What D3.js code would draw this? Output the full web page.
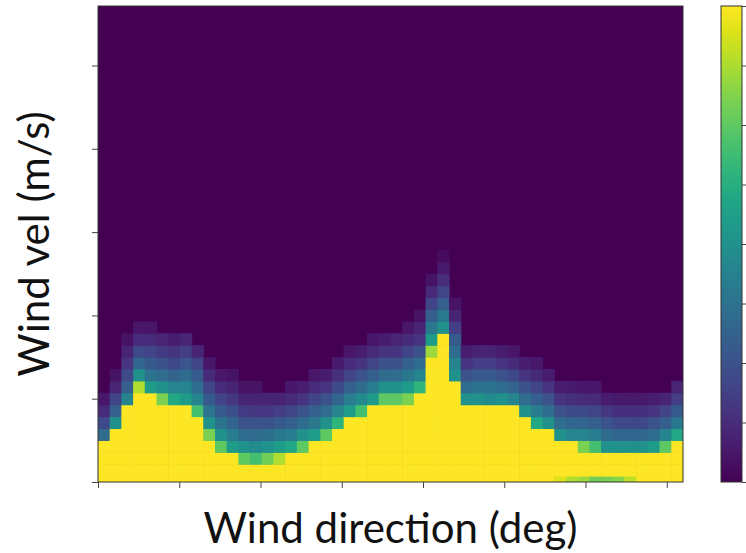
<!DOCTYPE html>
<html>
<head>
<meta charset="utf-8">
<script src="https://cdn.jsdelivr.net/npm/d3@7"></script>
<style>
  html, body { margin: 0; padding: 0; background: #ffffff; }
  svg { display: block; }
  text { font-family: Lato, "DejaVu Sans", sans-serif; fill: #111; }
</style>
</head>
<body>
<svg id="chart" width="746" height="553"></svg>
<script>
// ---- data ----
// wind direction bins: 50 columns over 0..360 deg
const dirDomain = [0, 360];
const nCols = 50;
// wind velocity bins: 41 rows centred on 0..40 (half rows at both ends)
const velDomain = [0, 40];
const nRows = 41;
// number of saturated (yellow) cells from the bottom in each column
const yellowRows = [4, 5, 7, 8, 8, 7, 7, 7, 6, 4,
                    3, 3, 2, 2, 2, 2, 3, 3, 4, 4,
                    5, 6, 6, 7, 7, 7, 7, 8, 11, 13,
                    9, 7, 7, 7, 7, 7, 6, 5, 5, 4,
                    4, 3, 3, 3, 3, 3, 3, 3, 3, 4];
// values of the cells stacked just above the yellow part (bottom -> up)
const fadeCols = [
  [0.35, 0.22, 0.12, 0.06],
  [0.5, 0.3, 0.2, 0.1, 0.05],
  [0.45, 0.3, 0.22, 0.15, 0.1, 0.05],
  [0.88, 0.5, 0.33, 0.22, 0.12, 0.06],
  [0.55, 0.38, 0.28, 0.2, 0.12, 0.06],
  [0.8, 0.5, 0.35, 0.25, 0.17, 0.1],
  [0.6, 0.45, 0.32, 0.22, 0.15, 0.08],
  [0.55, 0.45, 0.35, 0.26, 0.18, 0.1],
  [0.7, 0.45, 0.35, 0.28, 0.2, 0.1],
  [0.8, 0.5, 0.38, 0.28, 0.2, 0.12, 0.06],
  [0.75, 0.5, 0.38, 0.28, 0.2, 0.12, 0.06],
  [0.55, 0.42, 0.32, 0.24, 0.16, 0.1, 0.05],
  [0.75, 0.5, 0.35, 0.25, 0.17, 0.1, 0.05],
  [0.7, 0.48, 0.35, 0.25, 0.16, 0.1, 0.05],
  [0.78, 0.5, 0.36, 0.25, 0.16, 0.1],
  [0.88, 0.55, 0.4, 0.28, 0.18, 0.1],
  [0.6, 0.42, 0.3, 0.2, 0.12, 0.06],
  [0.75, 0.5, 0.35, 0.25, 0.15, 0.08],
  [0.55, 0.4, 0.3, 0.2, 0.12, 0.06],
  [0.75, 0.5, 0.35, 0.25, 0.15, 0.08],
  [0.65, 0.45, 0.32, 0.22, 0.14, 0.07],
  [0.55, 0.42, 0.3, 0.2, 0.12, 0.06],
  [0.7, 0.48, 0.35, 0.25, 0.15, 0.08],
  [0.55, 0.42, 0.3, 0.2, 0.12, 0.06],
  [0.75, 0.5, 0.35, 0.25, 0.15, 0.08],
  [0.75, 0.5, 0.35, 0.25, 0.15, 0.1],
  [0.8, 0.55, 0.4, 0.3, 0.2, 0.12, 0.06],
  [0.65, 0.45, 0.35, 0.25, 0.15, 0.1, 0.05],
  [0.85, 0.55, 0.4, 0.3, 0.2, 0.12, 0.05],
  [0.5, 0.4, 0.3, 0.2, 0.13, 0.07, 0.03],
  [0.5, 0.45, 0.35, 0.28, 0.18, 0.1, 0.05],
  [0.5, 0.35, 0.25, 0.15, 0.08],
  [0.5, 0.38, 0.28, 0.18, 0.1],
  [0.48, 0.38, 0.28, 0.18, 0.1],
  [0.5, 0.35, 0.25, 0.15, 0.08],
  [0.45, 0.32, 0.22, 0.12, 0.06],
  [0.5, 0.35, 0.25, 0.15, 0.08],
  [0.6, 0.42, 0.3, 0.2, 0.12, 0.06],
  [0.5, 0.35, 0.25, 0.15, 0.08],
  [0.5, 0.35, 0.25, 0.15, 0.08],
  [0.45, 0.33, 0.22, 0.14, 0.07],
  [0.8, 0.45, 0.32, 0.22, 0.12, 0.06],
  [0.7, 0.42, 0.3, 0.2, 0.12, 0.06],
  [0.5, 0.35, 0.25, 0.16, 0.08],
  [0.5, 0.33, 0.22, 0.14, 0.07],
  [0.5, 0.33, 0.22, 0.14, 0.07],
  [0.5, 0.33, 0.22, 0.14, 0.07],
  [0.55, 0.35, 0.25, 0.15, 0.08],
  [0.75, 0.45, 0.3, 0.2, 0.1],
  [0.6, 0.4, 0.28, 0.18, 0.1]
];
// lighter cells in the bottom row (column index, value)
const bottomDipCols = [39, 40, 41, 42, 43, 44, 45];
const bottomDipVals = [0.95, 0.88, 0.85, 0.78, 0.8, 0.82, 0.9];
// tick values (no labels shown)
const xTickVals = [0, 50, 100, 150, 200, 250, 300, 350];
const yTickVals = [0, 7, 14, 21, 28, 35];
const cbarDomain = [0, 8];
const cbarTickVals = [0, 1, 2, 3, 4, 5, 6, 7, 8];
const xLabel = "Wind direction (deg)";
const yLabel = "Wind vel (m/s)";

// ---- build the grid ----
const cells = [];
for (let c = 0; c < nCols; c++) {
  for (let k = 0; k < nRows; k++) {
    let v = 0;
    if (k < yellowRows[c]) v = 1;
    else {
      const f = fadeCols[c][k - yellowRows[c]];
      if (f !== undefined) v = f;
    }
    if (k === 0) {
      const di = bottomDipCols.indexOf(c);
      if (di >= 0) v = bottomDipVals[di];
    }
    cells.push({ c, k, v });
  }
}

// ---- layout ----
const svg = d3.select("#chart");
const plot = { left: 98, right: 683, top: 6, bottom: 482 };
const x = d3.scaleLinear().domain(dirDomain).range([plot.left, plot.right]);
const y = d3.scaleLinear().domain(velDomain).range([plot.bottom, plot.top]);
const binW = (dirDomain[1] - dirDomain[0]) / nCols;
const color = d3.scaleSequential(d3.interpolateViridis).domain([0, 1]);

const defs = svg.append("defs");
defs.append("clipPath").attr("id", "plotclip")
  .append("rect")
  .attr("x", plot.left).attr("y", plot.top)
  .attr("width", plot.right - plot.left).attr("height", plot.bottom - plot.top);

const g = svg.append("g").attr("clip-path", "url(#plotclip)");
g.append("rect")
  .attr("x", plot.left).attr("y", plot.top)
  .attr("width", plot.right - plot.left).attr("height", plot.bottom - plot.top)
  .attr("fill", color(0));

g.selectAll("rect.cell")
  .data(cells.filter(d => d.v > 0))
  .join("rect")
  .attr("class", "cell")
  .attr("x", d => x(d.c * binW))
  .attr("width", d => x((d.c + 1) * binW) - x(d.c * binW) + 0.6)
  .attr("y", d => y(Math.min(velDomain[1], d.k + 0.5)))
  .attr("height", d => y(Math.max(velDomain[0], d.k - 0.5)) - y(Math.min(velDomain[1], d.k + 0.5)) + 0.6)
  .attr("fill", d => color(d.v));

// frame
svg.append("rect")
  .attr("x", plot.left).attr("y", plot.top)
  .attr("width", plot.right - plot.left).attr("height", plot.bottom - plot.top)
  .attr("fill", "none").attr("stroke", "#333").attr("stroke-width", 1);

// axes
const xAxis = svg.append("g")
  .attr("transform", `translate(0,${plot.bottom})`)
  .call(d3.axisBottom(x).tickValues(xTickVals).tickFormat("").tickSize(6).tickSizeOuter(0));
const yAxis = svg.append("g")
  .attr("transform", `translate(${plot.left},0)`)
  .call(d3.axisLeft(y).tickValues(yTickVals).tickFormat("").tickSize(6).tickSizeOuter(0));
[xAxis, yAxis].forEach(a => {
  a.select(".domain").remove();
  a.selectAll(".tick line").attr("stroke", "#444").attr("stroke-width", 1);
});

// labels
svg.append("text")
  .attr("x", (plot.left + plot.right) / 2).attr("y", 543)
  .attr("text-anchor", "middle")
  .attr("font-size", 42)
  .text(xLabel);
svg.append("text")
  .attr("transform", `translate(49,${(plot.top + plot.bottom) / 2}) rotate(-90)`)
  .attr("text-anchor", "middle")
  .attr("font-size", 42)
  .text(yLabel);

// colorbar
const cb = { left: 721, right: 742, top: 6, bottom: 482 };
const grad = defs.append("linearGradient").attr("id", "vgrad")
  .attr("x1", 0).attr("y1", 1).attr("x2", 0).attr("y2", 0);
d3.range(0, 1.0001, 0.05).forEach(t => {
  grad.append("stop").attr("offset", t).attr("stop-color", color(t));
});
svg.append("rect")
  .attr("x", cb.left).attr("y", cb.top)
  .attr("width", cb.right - cb.left).attr("height", cb.bottom - cb.top)
  .attr("fill", "url(#vgrad)")
  .attr("stroke", "#333").attr("stroke-width", 1);
const cbScale = d3.scaleLinear().domain(cbarDomain).range([cb.bottom, cb.top]);
const cbAxis = svg.append("g")
  .attr("transform", `translate(${cb.right},0)`)
  .call(d3.axisRight(cbScale).tickValues(cbarTickVals).tickFormat("").tickSize(4).tickSizeOuter(0));
cbAxis.select(".domain").remove();
cbAxis.selectAll(".tick line").attr("stroke", "#444");
</script>
</body>
</html>
